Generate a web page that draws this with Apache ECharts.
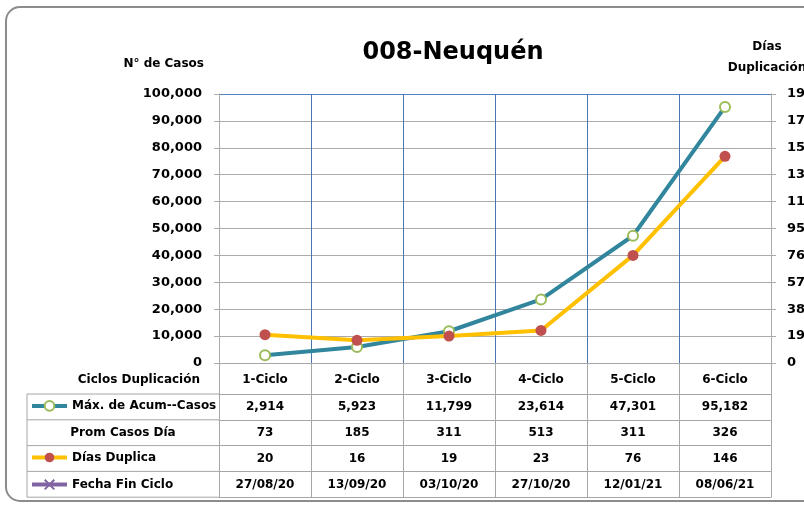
<!DOCTYPE html>
<html>
<head>
<meta charset="utf-8">
<script src="https://cdn.jsdelivr.net/npm/echarts@6/dist/echarts.min.js"></script>
</head>
<body style="margin:0">
<div id="container" style="width:804px;height:505px"></div>
<script>
var ciclos = ['1-Ciclo', '2-Ciclo', '3-Ciclo', '4-Ciclo', '5-Ciclo', '6-Ciclo'];
var maxAcumCasos = [2914, 5923, 11799, 23614, 47301, 95182];
var promCasosDia = [73, 185, 311, 513, 311, 326];
var diasDuplica = [20, 16, 19, 23, 76, 146];
var fechaFinCiclo = ['27/08/20', '13/09/20', '03/10/20', '27/10/20', '12/01/21', '08/06/21'];
var casosMax = 100000, casosStep = 10000;
var diasMax = 190, diasStep = 19;

var FONT = 'DejaVu Sans';
var GRID_GREY = '#ababab';
var TABLE_GREY = '#a6a6a6';
var BLUE = '#4a76b0';

// table geometry (below the plot)
var plotBottom = 363, headerH = 31, rowH = 25.8;
var tableLeft = 27, plotLeft = 219;

function fmt(n) { return n.toLocaleString('en-US'); }

function rowAxis(data, offset, showLabel) {
    return {
        type: 'category', gridIndex: 0, position: 'bottom', offset: offset, data: data,
        axisLine: { show: true, onZero: false, lineStyle: { color: TABLE_GREY } },
        axisTick: { show: showLabel, length: rowH, interval: 0, lineStyle: { color: TABLE_GREY } },
        axisLabel: { show: showLabel, interval: 0, margin: 7, color: '#000', fontWeight: 'bold', fontSize: 12, fontFamily: FONT },
        splitLine: { show: false }
    };
}

var rowTops = [];
for (var i = 0; i <= 4; i++) rowTops.push(plotBottom + headerH + i * rowH);

var graphics = [{
    type: 'rect', shape: { x: 6, y: 7, width: 830, height: 494, r: 14 },
    style: { fill: 'none', stroke: '#8c8c8c', lineWidth: 2 }
}, {
    type: 'line', shape: { x1: tableLeft, y1: rowTops[0], x2: tableLeft, y2: rowTops[4] },
    style: { stroke: TABLE_GREY, lineWidth: 1 }
}, {
    type: 'text', x: 200, y: plotBottom + headerH / 2 + 1,
    style: { text: 'Ciclos Duplicación', align: 'right', verticalAlign: 'middle', fill: '#000', font: 'bold 12px "' + FONT + '"' }
}, {
    type: 'text', x: 123, y: rowTops[1] + rowH / 2,
    style: { text: 'Prom Casos Día', align: 'center', verticalAlign: 'middle', fill: '#000', font: 'bold 12px "' + FONT + '"' }
}];
rowTops.forEach(function (y) {
    graphics.push({
        type: 'line', shape: { x1: tableLeft, y1: y, x2: plotLeft, y2: y },
        style: { stroke: TABLE_GREY, lineWidth: 1 }
    });
});

var legendBase = {
    orient: 'vertical', left: 30, padding: 0, itemWidth: 35, itemHeight: 12, selectedMode: false,
    lineStyle: { width: 4 },
    textStyle: { color: '#000', fontWeight: 'bold', fontSize: 12, fontFamily: FONT }
};
function legendAt(name, row) {
    return Object.assign({}, legendBase, { data: [name], top: rowTops[row] + rowH / 2 - 7 });
}

var splitColors = [];
for (var k = 0; k < casosMax / casosStep; k++) splitColors.push(GRID_GREY);
splitColors.push('#4f81bd');

var myChart = echarts.init(document.getElementById('container'), null, { renderer: 'canvas' });

var option = {
    animation: false,
    backgroundColor: '#fff',
    title: {
        text: '008-Neuquén', left: 448, top: 36, textAlign: 'center',
        textStyle: { fontSize: 24, fontWeight: 'bold', color: '#000', fontFamily: FONT }
    },
    legend: [
        legendAt('Máx. de Acum--Casos', 0),
        legendAt('Días Duplica', 2),
        legendAt('Fecha Fin Ciclo', 3)
    ],
    grid: { left: plotLeft, right: 33, top: 94, bottom: 505 - plotBottom, outerBoundsMode: 'none', containLabel: false },
    xAxis: [{
        type: 'category', position: 'bottom', data: ciclos,
        axisLine: { show: true, onZero: false, lineStyle: { color: TABLE_GREY } },
        axisTick: { show: true, length: headerH, interval: 0, lineStyle: { color: TABLE_GREY } },
        axisLabel: { interval: 0, margin: 11, color: '#000', fontWeight: 'bold', fontSize: 12, fontFamily: FONT },
        splitLine: { show: true, interval: 0, lineStyle: { color: BLUE, width: 1 } }
    },
        rowAxis(maxAcumCasos.map(fmt), headerH, true),
        rowAxis(promCasosDia.map(fmt), headerH + rowH, true),
        rowAxis(diasDuplica.map(fmt), headerH + 2 * rowH, true),
        rowAxis(fechaFinCiclo, headerH + 3 * rowH, true),
        rowAxis(ciclos, headerH + 4 * rowH, false)
    ],
    yAxis: [{
        type: 'value', min: 0, max: casosMax, interval: casosStep, position: 'left',
        name: 'N° de Casos', nameLocation: 'end', nameGap: 24,
        nameTextStyle: { align: 'right', padding: [0, 15, 0, 0], color: '#000', fontWeight: 'bold', fontSize: 12, fontFamily: FONT },
        axisLine: { show: true, lineStyle: { color: GRID_GREY } },
        axisTick: { show: true, length: 5, lineStyle: { color: GRID_GREY } },
        axisLabel: { margin: 17, color: '#000', fontWeight: 'bold', fontSize: 13, fontFamily: FONT, formatter: function (v) { return fmt(v); } },
        splitLine: { show: true, lineStyle: { color: splitColors, width: 1 } }
    }, {
        type: 'value', min: 0, max: diasMax, interval: diasStep, position: 'right',
        name: 'Días\nDuplicación', nameLocation: 'end', nameGap: 16,
        nameTextStyle: { align: 'center', lineHeight: 21, padding: [0, 0, 0, -8], color: '#000', fontWeight: 'bold', fontSize: 12, fontFamily: FONT },
        axisLine: { show: true, lineStyle: { color: GRID_GREY } },
        axisTick: { show: true, length: 5, lineStyle: { color: GRID_GREY } },
        axisLabel: { margin: 16, color: '#000', fontWeight: 'bold', fontSize: 13, fontFamily: FONT },
        splitLine: { show: false }
    }],
    series: [{
        name: 'Máx. de Acum--Casos', type: 'line', xAxisIndex: 0, yAxisIndex: 0,
        data: maxAcumCasos,
        symbol: 'circle', symbolSize: 10,
        lineStyle: { color: '#31859c', width: 4 },
        itemStyle: { color: '#fff', borderColor: '#9bbb59', borderWidth: 2 },
        z: 3
    }, {
        name: 'Días Duplica', type: 'line', xAxisIndex: 0, yAxisIndex: 1,
        data: diasDuplica,
        symbol: 'circle', symbolSize: 11,
        lineStyle: { color: '#ffc000', width: 4 },
        itemStyle: { color: '#c0504d', borderColor: '#c0504d', borderWidth: 0 },
        z: 4
    }, {
        name: 'Fecha Fin Ciclo', type: 'line', xAxisIndex: 0, yAxisIndex: 1,
        data: [],
        symbol: 'path://M0,0L10,10M10,0L0,10', symbolSize: 9,
        lineStyle: { color: '#8064a2', width: 4 },
        itemStyle: { color: 'none', borderColor: '#8064a2', borderWidth: 1.5 }
    }],
    graphic: graphics
};

myChart.setOption(option);
window.addEventListener('resize', myChart.resize);
</script>
</body>
</html>
